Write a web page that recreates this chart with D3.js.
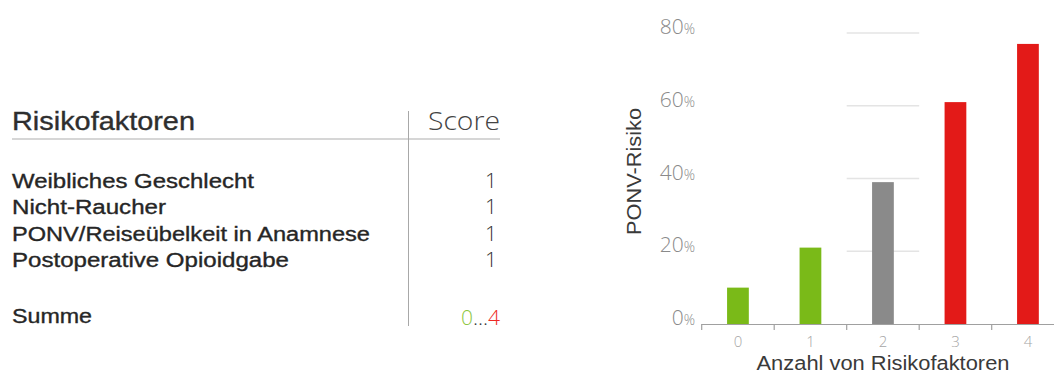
<!DOCTYPE html>
<html>
<head>
<meta charset="utf-8">
<script src="https://cdn.jsdelivr.net/npm/d3@7"></script>
<style>
  html, body { margin: 0; padding: 0; background: #fff; }
  svg { display: block; font-family: "Liberation Sans", Arial, sans-serif; }
  .light { font-family: "Open Sans", Lato, sans-serif; font-weight: 300; }
  .med { font-family: "Liberation Sans", Arial, sans-serif; font-weight: 400; stroke-width: 0.35px; }
</style>
</head>
<body>
<svg id="chart" width="1054" height="374"></svg>
<script>
// ---- data ----
const factors = ["Weibliches Geschlecht", "Nicht-Raucher", "PONV/Reiseübelkeit in Anamnese", "Postoperative Opioidgabe"];
const factorScores = [1, 1, 1, 1];
const headerLabels = ["Risikofaktoren", "Score"];
const sumLabel = "Summe";
const sumRange = ["0", "4"];
const categories = ["0", "1", "2", "3", "4"];
const riskValues = [10, 21, 39, 61, 77];
const riskGroup = ["low", "low", "mid", "high", "high"];
const yTicks = [0, 20, 40, 60, 80];
const xTitle = "Anzahl von Risikofaktoren";
const yTitle = "PONV-Risiko";

// ---- drawing ----
const svg = d3.select("#chart");
const colorOf = { low: "#7aba18", mid: "#8a8a8a", high: "#e31a18" };

function fitText(sel, w) {
  sel.attr("textLength", w).attr("lengthAdjust", "spacingAndGlyphs");
}

// Left table
const tbl = svg.append("g");
tbl.append("text").attr("class", "med").attr("x", 12).attr("y", 130).attr("font-size", 25)
  .attr("fill", "#2e2e2e").attr("stroke", "#2e2e2e").text(headerLabels[0]).call(fitText, 183);
tbl.append("text").attr("class", "light").attr("x", 500).attr("y", 130).attr("text-anchor", "end").attr("font-size", 25)
  .attr("fill", "#444").text(headerLabels[1]).call(fitText, 72);
tbl.append("line").attr("x1", 12).attr("x2", 500).attr("y1", 139).attr("y2", 139)
  .attr("stroke", "#c8c8c8").attr("stroke-width", 1.5);
tbl.append("line").attr("x1", 408.5).attr("x2", 408.5).attr("y1", 111).attr("y2", 326)
  .attr("stroke", "#a8a8a8").attr("stroke-width", 1);

const rowWidths = [242, 154, 358, 277];
const rowY = d3.scaleLinear().domain([0, 1]).range([187.5, 214]);
factors.forEach((f, i) => {
  tbl.append("text").attr("class", "med").attr("x", 12).attr("y", rowY(i)).attr("font-size", 20)
    .attr("fill", "#262626").attr("stroke", "#262626").text(f).call(fitText, rowWidths[i]);
  tbl.append("text").attr("class", "light").attr("x", 497).attr("y", rowY(i)).attr("text-anchor", "end").attr("font-size", 21)
    .attr("fill", "#333").text(factorScores[i]);
});
tbl.append("text").attr("class", "med").attr("x", 12).attr("y", 323).attr("font-size", 20)
  .attr("fill", "#262626").attr("stroke", "#262626").text(sumLabel).call(fitText, 80);
const sumT = tbl.append("text").attr("class", "light").attr("x", 500).attr("y", 325).attr("text-anchor", "end")
  .attr("font-size", 21);
sumT.append("tspan").attr("fill", "#8cc63f").text(sumRange[0]);
sumT.append("tspan").attr("fill", "#333").text("...");
sumT.append("tspan").attr("fill", "#ee2a24").text(sumRange[1]);

// Bar chart
const x = d3.scaleBand().domain(categories).range([701.7, 1064.2]).paddingInner(0.7).paddingOuter(0.35);
const y = d3.scaleLinear().domain([0, 80]).range([324, 33]);
const step = x.step();
const x0 = 701.7;

// gridlines only across the middle band
const gx1 = x0 + 2 * step, gx2 = x0 + 3 * step;
svg.append("g").selectAll("line").data(yTicks.filter(d => d > 0)).join("line")
  .attr("x1", gx1).attr("x2", gx2).attr("y1", d => y(d)).attr("y2", d => y(d))
  .attr("stroke", "#e4e4e4").attr("stroke-width", 1.5);

// bars
svg.append("g").selectAll("rect").data(categories).join("rect")
  .attr("x", d => x(d)).attr("width", x.bandwidth())
  .attr("y", (d, i) => y(riskValues[i])).attr("height", (d, i) => y(0) - y(riskValues[i]))
  .attr("fill", (d, i) => colorOf[riskGroup[i]]);

// x axis
const ax = svg.append("g");
ax.append("line").attr("x1", x0).attr("x2", 1054).attr("y1", 324.5).attr("y2", 324.5)
  .attr("stroke", "#a0a0a0").attr("stroke-width", 1.2);
ax.selectAll("line.tick").data(d3.range(categories.length)).join("line").attr("class", "tick")
  .attr("x1", i => x0 + i * step).attr("x2", i => x0 + i * step).attr("y1", 324).attr("y2", 330)
  .attr("stroke", "#a0a0a0").attr("stroke-width", 1.2);
ax.selectAll("text").data(categories).join("text").attr("class", "light")
  .attr("x", d => x(d) + x.bandwidth() / 2).attr("y", 347).attr("text-anchor", "middle")
  .attr("font-size", 15).attr("fill", "#a6a6a6").text(d => d);

// y tick labels
const yl = svg.append("g").selectAll("text").data(yTicks).join("text").attr("class", "light")
  .attr("x", 695).attr("y", d => y(d) + 1).attr("text-anchor", "end")
  .attr("fill", "#8a8a8a");
yl.append("tspan").attr("font-size", 21).text(d => d);
yl.append("tspan").attr("font-size", 14).text("%");

// titles
svg.append("text").attr("x", 883).attr("y", 369.5).attr("text-anchor", "middle")
  .attr("font-size", 20).attr("fill", "#3a3a3a").text(xTitle).call(fitText, 253);
svg.append("text").attr("transform", "translate(641,171.5) rotate(-90)").attr("text-anchor", "middle")
  .attr("font-size", 20).attr("fill", "#3a3a3a").text(yTitle).call(fitText, 127);
</script>
</body>
</html>
